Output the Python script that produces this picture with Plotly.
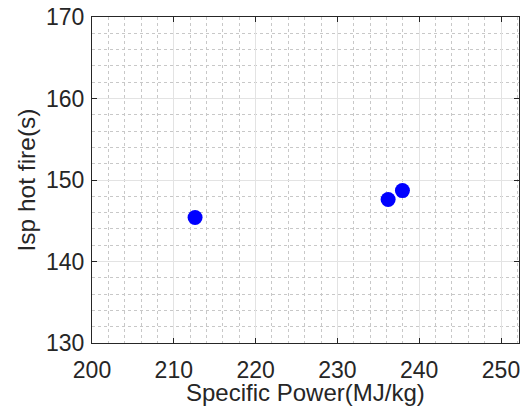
import plotly.graph_objects as go

specific_power = [212.6, 236.2, 237.95]
isp_hot_fire = [145.4, 147.6, 148.7]

x_ticks = [200, 210, 220, 230, 240, 250]
y_ticks = [130, 140, 150, 160, 170]

x_title = "Specific Power(MJ/kg)"
y_title = "Isp hot fire(s)"

FONT = "Liberation Sans, Arial, Helvetica, sans-serif"
TXT = "#262626"

# The page body has an 8px default margin, so the figure is smaller and margins compensate.
W, H = 512, 400
ML, MR, MT, MB = 84, 1, 9, 65
PW, PH = W - ML - MR, H - MT - MB

fig = go.Figure()
fig.add_trace(go.Scatter(
    x=specific_power, y=isp_hot_fire, mode="markers",
    marker=dict(color="#0000ff", size=15, line=dict(width=0)),
    showlegend=False, cliponaxis=False))

axis_common = dict(
    showline=True, linecolor=TXT, linewidth=1, mirror="ticks",
    ticks="inside", ticklen=5, tickcolor=TXT,
    showgrid=True, gridcolor="#e3e3e3", gridwidth=1,
    zeroline=False, automargin=False, ticklabeloverflow="allow",
    tickfont=dict(family=FONT, size=23, color=TXT),
    minor=dict(dtick=2, showgrid=True, gridcolor="#c8c8c8", griddash="dot", gridwidth=1, ticks=""),
)

fig.update_xaxes(range=[200, 252.2], tickvals=x_ticks, ticktext=[str(v) for v in x_ticks],
                 ticklabelstandoff=6, **axis_common)
fig.update_yaxes(range=[130, 170], tickvals=y_ticks, ticktext=[str(v) for v in y_ticks],
                 ticklabelstandoff=2, **axis_common)

fig.add_annotation(text=x_title, xref="paper", yref="paper",
                   x=0.5, y=-(384 - (H - MB)) / PH, xanchor="center", yanchor="middle",
                   showarrow=False, borderpad=0,
                   font=dict(family=FONT, size=24, color=TXT))
fig.add_annotation(text=y_title, xref="paper", yref="paper",
                   x=(17.5 - ML) / PW, y=0.5, xanchor="center", yanchor="middle",
                   textangle=-90, showarrow=False, borderpad=0,
                   font=dict(family=FONT, size=24.5, color=TXT))

fig.update_layout(
    width=W, height=H,
    margin=dict(l=ML, r=MR, t=MT, b=MB),
    plot_bgcolor="white", paper_bgcolor="white",
)

fig.write_html("out.html")
